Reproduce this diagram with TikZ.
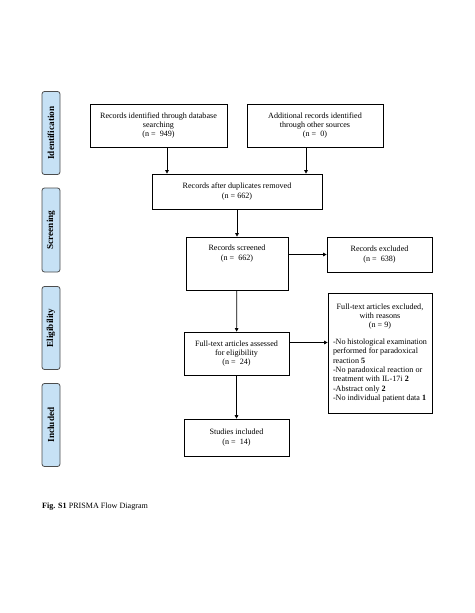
\documentclass[tikz,border=0pt]{standalone}
\usepackage{fontspec}
\setmainfont{Liberation Serif}
\usepackage{tikz}
\usetikzlibrary{arrows.meta}
\definecolor{phaseblue}{HTML}{C6E1F5}

\tikzset{
  flowbox/.style={draw,line width=0.7pt,align=center,inner sep=2pt,
    font=\fontsize{8.1}{9.4}\selectfont},
  phase/.style={draw=black!70,line width=0.8pt,fill=phaseblue,rounded corners=2.5pt,
    minimum width=18pt,inner sep=0pt,font=\fontsize{9.2}{10}\selectfont\bfseries},
  arr/.style={line width=0.7pt,-{Triangle[length=3.5pt,width=3.5pt]}}
}

\begin{document}
\begin{tikzpicture}[x=1pt,y=-1pt]
\useasboundingbox (0,0) rectangle (474,613);
% phases
\node[phase,minimum height=83pt] (ident) at (51,133) {\rotatebox{90}{Identification}};
\node[phase,minimum height=84pt] (screen) at (51,230) {\rotatebox{90}{Screening}};
\node[phase,minimum height=83pt] (elig) at (51,328) {\rotatebox{90}{Eligibility}};
\node[phase,minimum height=83pt] (incl) at (51,425) {\rotatebox{90}{Included}};
% boxes
\node[flowbox,minimum width=137pt,minimum height=43pt] (db) at (158.5,125.5)
  {Records identified through database\\searching\\(n = \ 949)};
\node[flowbox,minimum width=136pt,minimum height=43pt] (other) at (315,125.5)
  {Additional records identified\\through other sources\\(n = \ 0)};
\node[flowbox,minimum width=170pt,minimum height=35pt] (dup) at (237,191.5)
  {Records after duplicates removed\\(n = 662)};
\node[flowbox,minimum width=102pt,minimum height=53pt] (screened) at (237,263.5)
  {\parbox[c][47pt][t]{96pt}{\centering\vspace{5pt}Records screened\\(n = \ 662)}};
\node[flowbox,minimum width=105pt,minimum height=35pt] (excl) at (379.5,254.5)
  {Records excluded\\(n = \ 638)};
\node[flowbox,minimum width=105pt,minimum height=43pt] (assessed) at (236.5,353.5)
  {Full-text articles assessed\\for eligibility\\(n = \ 24)};
\node[flowbox,minimum width=104pt,minimum height=120pt] (ftexcl) at (380,353)
  {\parbox{94pt}{\centering Full-text articles excluded,\\with reasons\\(n = 9)\par
   \vspace{7pt}\raggedright
   -No histological examination\\performed for paradoxical\\reaction \textbf{5}\\
   -No paradoxical reaction or\\treatment with IL-17i \textbf{2}\\
   -Abstract only \textbf{2}\\
   -No individual patient data \textbf{1}}};
\node[flowbox,minimum width=105pt,minimum height=37pt] (studies) at (236.5,437.5)
  {Studies included\\(n = \ 14)};
% arrows
\draw[arr] ([xshift=8.5pt]db.south) -- ([xshift=8.5pt]db.south |- dup.north);
\draw[arr] ([xshift=-9pt]other.south) -- ([xshift=-9pt]other.south |- dup.north);
\draw[arr] (dup) -- (screened);
\draw[arr] (screened.east |- excl.west) -- (excl.west);
\draw[arr] (screened) -- (assessed);
\draw[arr] ([yshift=11pt]assessed.east) -- ([yshift=11pt]assessed.east -| ftexcl.west);
\draw[arr] (assessed) -- (studies);
% caption
\node[anchor=west,inner sep=0pt,font=\fontsize{8.1}{9.4}\selectfont] (cap) at (42,507)
  {\textbf{Fig. S1} PRISMA Flow Diagram};
\end{tikzpicture}
\end{document}
